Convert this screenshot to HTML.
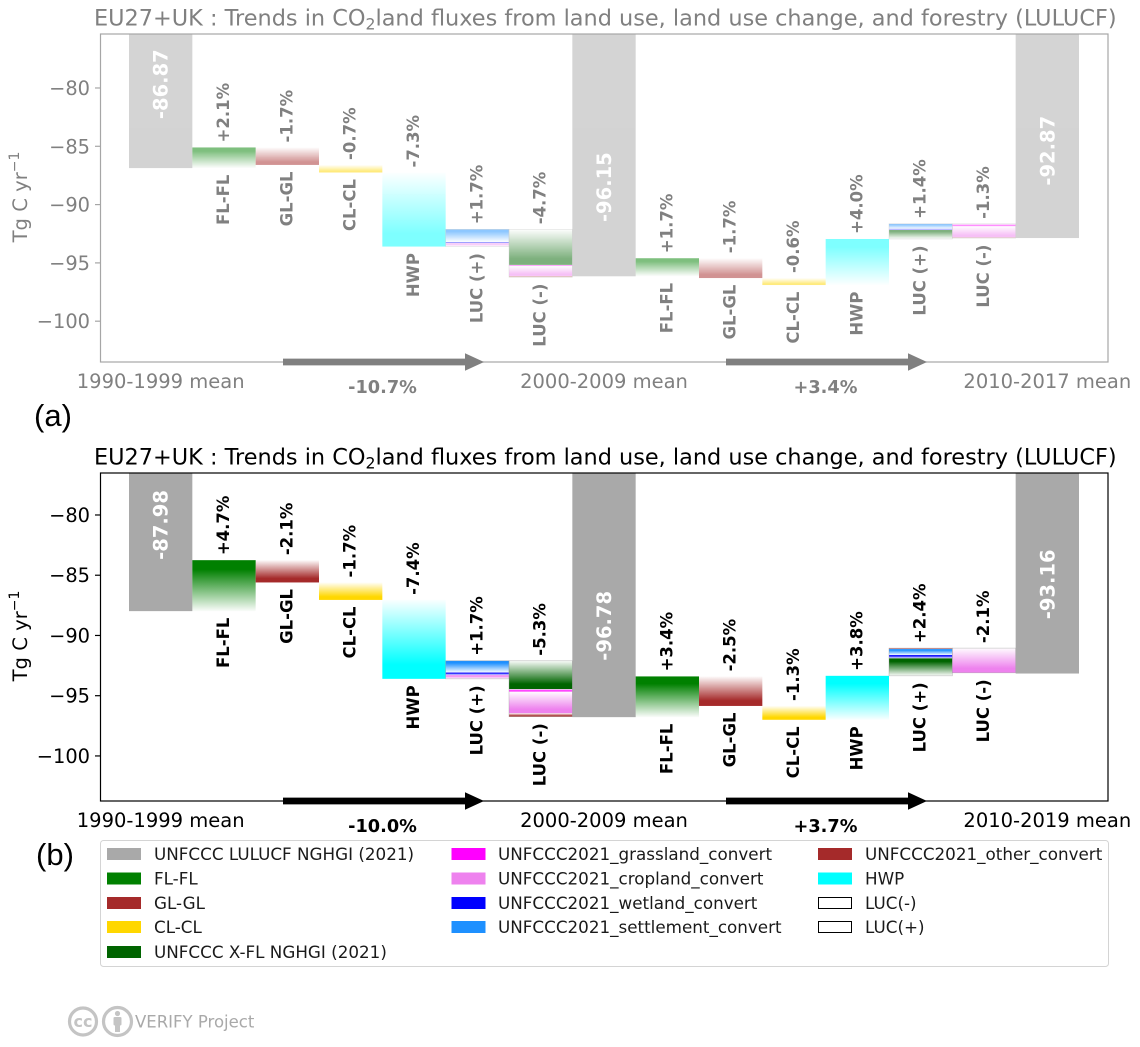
<!DOCTYPE html>
<html lang="en">
<head>
<meta charset="utf-8">
<title>EU27+UK LULUCF CO2 land flux trends</title>
<style>
html,body{margin:0;padding:0;background:#fff;}
svg{display:block;font-family:"DejaVu Sans","Liberation Sans",sans-serif;}
</style>
</head>
<body>
<svg id="chart" xmlns="http://www.w3.org/2000/svg" width="1140" height="1047" viewBox="0 0 1140 1047">
  <defs id="grads"></defs>
  <g id="panel-a"></g>
  <g id="panel-b"></g>

  <text x="34" y="426" font-family="'Liberation Sans',sans-serif" font-size="31" fill="#000">(a)</text>
  <text x="36" y="865" font-family="'Liberation Sans',sans-serif" font-size="31" fill="#000">(b)</text>

  <g font-size="16.75" fill="#1a1a1a">
    <rect x="100.5" y="840.5" width="1008" height="126" rx="3" fill="#fff" stroke="#d4d4d4" stroke-width="1"/>
    <g><rect x="107" y="848" width="34" height="12" fill="#a9a9a9"/><text x="154" y="860">UNFCCC LULUCF NGHGI (2021)</text></g>
    <g><rect x="107" y="872.5" width="34" height="12" fill="#008000"/><text x="154" y="884.5">FL-FL</text></g>
    <g><rect x="107" y="897" width="34" height="12" fill="#a52a2a"/><text x="154" y="909">GL-GL</text></g>
    <g><rect x="107" y="921" width="34" height="12" fill="#ffd700"/><text x="154" y="933">CL-CL</text></g>
    <g><rect x="107" y="946" width="34" height="12" fill="#006400"/><text x="154" y="958">UNFCCC X-FL NGHGI (2021)</text></g>
    <g><rect x="451.5" y="848" width="34" height="12" fill="#ff00ff"/><text x="498" y="860">UNFCCC2021_grassland_convert</text></g>
    <g><rect x="451.5" y="872.5" width="34" height="12" fill="#ee82ee"/><text x="498" y="884.5">UNFCCC2021_cropland_convert</text></g>
    <g><rect x="451.5" y="897" width="34" height="12" fill="#0000ff"/><text x="498" y="909">UNFCCC2021_wetland_convert</text></g>
    <g><rect x="451.5" y="921" width="34" height="12" fill="#1e90ff"/><text x="498" y="933">UNFCCC2021_settlement_convert</text></g>
    <g><rect x="818" y="848" width="34" height="12" fill="#a52a2a"/><text x="865" y="860">UNFCCC2021_other_convert</text></g>
    <g><rect x="818" y="872.5" width="34" height="12" fill="#00ffff"/><text x="865" y="884.5">HWP</text></g>
    <g><rect x="818.5" y="897.5" width="33" height="11" fill="#fff" stroke="#000" stroke-width="1"/><text x="865" y="909">LUC(-)</text></g>
    <g><rect x="818.5" y="921.5" width="33" height="11" fill="#fff" stroke="#000" stroke-width="1"/><text x="865" y="933">LUC(+)</text></g>
  </g>

  <g>
    <g>
      <circle cx="83" cy="1021.5" r="13.5" fill="#fff" stroke="#c4c4c4" stroke-width="3.2"/>
      <text x="83" y="1027" text-anchor="middle" font-size="16" font-weight="bold" fill="#c4c4c4">cc</text>
    </g>
    <g>
      <circle cx="117.5" cy="1021.5" r="14" fill="#fff" stroke="#c4c4c4" stroke-width="3.2"/>
      <circle cx="117.5" cy="1013.5" r="2.6" fill="#c4c4c4"/>
      <rect x="113.5" y="1017" width="8" height="8.5" rx="1.2" fill="#c4c4c4"/>
      <rect x="115" y="1024" width="5" height="8" fill="#c4c4c4"/>
    </g>
    <text x="135" y="1027.5" font-size="16.5" fill="#a9a9a9">VERIFY Project</text>
  </g>
</svg>

<script>
/* ---------- shared chart data ---------- */
const stepNames = ['FL-FL', 'GL-GL', 'CL-CL', 'HWP', 'LUC (+)', 'LUC (-)'];
const yTicks = [-80, -85, -90, -95, -100];

/* ---------- panel (a) data (Tg C / yr) ---------- */
const periodLabelsA = ['1990-1999 mean', '2000-2009 mean', '2010-2017 mean'];
const totalsA = [-86.87, -96.15, -92.87];
const flflA = [1.77, 1.55];
const glglA = [-1.5, -1.7];
const clclA = [-0.65, -0.6];
const hwpA = [-6.35, 3.95];
const plusXflA = [0, 0.77];
const plusCropA = [0.28, 0];
const plusWetlandA = [0.11, 0.1];
const plusSettlementA = [1.09, 0.43];
const plusOtherA = [0, 0];
const minusXflA = [3.05, 0];
const minusGrassA = [0.1, 0.2];
const minusCropA = [0.85, 0.95];
const minusOtherA = [0.1, 0.07];
const percentLabelsA = [
  ['+2.1%', '-1.7%', '-0.7%', '-7.3%', '+1.7%', '-4.7%'],
  ['+1.7%', '-1.7%', '-0.6%', '+4.0%', '+1.4%', '-1.3%']
];
const changeLabelsA = ['-10.7%', '+3.4%'];

/* ---------- panel (b) data (Tg C / yr) ---------- */
const periodLabelsB = ['1990-1999 mean', '2000-2009 mean', '2010-2019 mean'];
const totalsB = [-87.98, -96.78, -93.16];
const flflB = [4.23, 3.38];
const glglB = [-1.85, -2.45];
const clclB = [-1.45, -1.15];
const hwpB = [-6.55, 3.65];
const plusXflB = [0, 1.45];
const plusCropB = [0.3, 0];
const plusWetlandB = [0.22, 0.27];
const plusSettlementB = [0.98, 0.5];
const plusOtherB = [0, 0.08];
const minusXflB = [2.35, 0];
const minusGrassB = [0.2, 0];
const minusCropB = [1.8, 2.05];
const minusOtherB = [0.29, 0];
const percentLabelsB = [
  ['+4.7%', '-2.1%', '-1.7%', '-7.4%', '+1.7%', '-5.3%'],
  ['+3.4%', '-2.5%', '-1.3%', '+3.8%', '+2.4%', '-2.1%']
];
const changeLabelsB = ['-10.0%', '+3.7%'];

const COLORS = {
  total: '#a9a9a9', flfl: '#008000', glgl: '#a52a2a', clcl: '#ffd700', hwp: '#00ffff',
  xfl: '#006400', grass: '#ff00ff', crop: '#ee82ee', wetland: '#0000ff',
  settlement: '#1e90ff', other: '#a52a2a'
};
const SVGNS = 'http://www.w3.org/2000/svg';

function make(tag, attrs, parent) {
  const el = document.createElementNS(SVGNS, tag);
  for (const k in attrs) el.setAttribute(k, attrs[k]);
  parent.appendChild(el);
  return el;
}

/* one gradient per colour and direction: solid at the end the step moved to */
const gradDefs = document.getElementById('grads');
function gradientFor(key, up) {
  const id = 'g-' + key + (up ? '-up' : '-down');
  if (!document.getElementById(id)) {
    const g = make('linearGradient', {id: id, x1: 0, y1: up ? 1 : 0, x2: 0, y2: up ? 0 : 1}, gradDefs);
    make('stop', {offset: 0, 'stop-color': COLORS[key], 'stop-opacity': 0.02}, g);
    make('stop', {offset: 0.82, 'stop-color': COLORS[key], 'stop-opacity': 1}, g);
    make('stop', {offset: 1, 'stop-color': COLORS[key], 'stop-opacity': 1}, g);
  }
  return 'url(#' + id + ')';
}

function drawPanel(o) {
  const root = document.getElementById(o.id);
  const yScale = v => o.top + (o.yMax - v) / (o.yMax - o.yMin) * (o.bottom - o.top);
  const bandW = 950 / 15;
  const xScale = i => 129 + i * bandW;
  const textFill = o.ink;

  /* marks group; panel (a) is drawn at half alpha */
  const bars = make('g', {opacity: o.alpha}, root);
  
  
  const labels = make('g', {}, root);
  
  

  function stepLabels(i, name, pct, hi, lo) {
    const cx = xScale(i) + bandW / 2 - 1;
    const p = make('text', {
      transform: 'translate(' + cx + ',' + (yScale(hi) - 5) + ') rotate(-90)',
      dy: '0.36em', 'font-size': 16.5, 'font-weight': 'bold', fill: textFill
    }, labels);
    p.textContent = pct;
    
    
    const n = make('text', {
      transform: 'translate(' + cx + ',' + (yScale(lo) + 6.5) + ') rotate(-90)',
      dy: '0.36em', 'text-anchor': 'end', 'font-size': 16.5, 'font-weight': 'bold', fill: textFill
    }, labels);
    n.textContent = name;
    
    
  }

  function segment(i, key, from, to) {
    if (from === to) return;
    const r = make('rect', {
      x: xScale(i), width: bandW,
      y: yScale(Math.max(from, to)),
      height: Math.abs(yScale(from) - yScale(to)),
      fill: gradientFor(key, to > from)
    }, bars);
    
    
  }

  /* totals */
  o.totals.forEach((v, k) => {
    const i = k * 7;
    const r = make('rect', {x: xScale(i), width: bandW, y: yScale(o.yMax), height: yScale(v) - yScale(o.yMax), fill: COLORS.total}, bars);
    
    
    const t = make('text', {
      transform: 'translate(' + (xScale(i) + bandW / 2) + ',' + yScale(v * 0.9516) + ') rotate(-90)',
      dy: '0.36em', 'font-size': 19.5, 'font-weight': 'bold', fill: '#fff'
    }, labels);
    t.textContent = v.toFixed(2);
    
    
  });

  /* waterfall steps for each of the two periods */
  for (let k = 0; k < 2; k++) {
    let level = o.totals[k];
    const base = k * 7 + 1;
    const simple = [['flfl', o.flfl[k]], ['glgl', o.glgl[k]], ['clcl', o.clcl[k]], ['hwp', o.hwp[k]]];
    simple.forEach((s, j) => {
      const next = level + s[1];
      segment(base + j, s[0], level, next);
      stepLabels(base + j, stepNames[j], o.percents[k][j], Math.max(level, next), Math.min(level, next));
      level = next;
    });

    /* LUC (+) stack, built upward */
    const plusStart = level;
    [['xfl', o.plusXfl[k]], ['crop', o.plusCrop[k]], ['wetland', o.plusWetland[k]],
     ['settlement', o.plusSettlement[k]], ['other', o.plusOther[k]]].forEach(s => {
      segment(base + 4, s[0], level, level + s[1]);
      level += s[1];
    });
    outline(base + 4, plusStart, level);
    stepLabels(base + 4, stepNames[4], o.percents[k][4], level, plusStart);

    /* LUC (-) stack, built downward */
    const minusStart = level;
    [['xfl', o.minusXfl[k]], ['grass', o.minusGrass[k]], ['crop', o.minusCrop[k]], ['other', o.minusOther[k]]].forEach(s => {
      segment(base + 5, s[0], level, level - s[1]);
      level -= s[1];
    });
    outline(base + 5, minusStart, level);
    stepLabels(base + 5, stepNames[5], o.percents[k][5], minusStart, level);
  }

  function outline(i, a, b) {
    const r = make('rect', {
      x: xScale(i), width: bandW, y: yScale(Math.max(a, b)), height: Math.abs(yScale(a) - yScale(b)),
      fill: 'none', stroke: '#9a9a9a', 'stroke-width': 0.6, 'stroke-opacity': 0.6
    }, bars);
    
    
  }

  /* axes frame */
  const frame = make('rect', {x: 100.5, y: o.top, width: 1007.5, height: o.bottom - o.top, fill: 'none', stroke: o.frameInk, 'stroke-width': 1.2}, root);
  
  

  /* y ticks */
  const yAxis = make('g', {}, root);
  
  
  yTicks.forEach(v => {
    const tick = make('line', {x1: 95, x2: 100.5, y1: yScale(v), y2: yScale(v), stroke: o.frameInk, 'stroke-width': 1.2}, yAxis);
    
    
    const t = make('text', {x: 90, y: yScale(v) + 7, 'text-anchor': 'end', 'font-size': 19.4, fill: textFill}, yAxis);
    t.textContent = '\u2212' + Math.abs(v);
    
    
  });

  /* y axis title */
  const yTitle = make('text', {
    transform: 'translate(27,' + ((o.top + o.bottom) / 2 - 1) + ') rotate(-90)',
    'text-anchor': 'middle', 'font-size': 19.6, fill: textFill
  }, root);
  
  
  yTitle.appendChild(document.createTextNode('Tg C yr'));
  const sup = make('tspan', {dy: -8, 'font-size': 14}, yTitle);
  sup.textContent = '\u22121';

  /* chart title */
  const title = make('text', {x: 94, y: o.top - 8.5, 'font-size': 22.4, fill: textFill}, root);
  
  
  title.appendChild(document.createTextNode('EU27+UK : Trends in CO'));
  const sub = make('tspan', {dy: 4, 'font-size': 15.7}, title);
  sub.textContent = '2';
  const rest = make('tspan', {dy: -4}, title);
  rest.textContent = 'land fluxes from land use, land use change, and forestry (LULUCF)';

  /* period labels */
  o.periods.forEach((s, k) => {
    const t = make('text', {x: xScale(k * 7) + bandW / 2, y: o.bottom + 26, 'text-anchor': 'middle', 'font-size': 19.5, fill: textFill}, root);
    t.textContent = s;
    
    
  });

  /* change arrows */
  o.changes.forEach((s, k) => {
    const x0 = 283 + k * 443;
    const yc = o.bottom;
    const arrow = make('polygon', {
      points: [[x0, yc - 3.4], [x0 + 182, yc - 3.4], [x0 + 182, yc - 8.8], [x0 + 201, yc], [x0 + 182, yc + 8.8], [x0 + 182, yc + 3.4], [x0, yc + 3.4]].join(' '),
      fill: o.arrowInk
    }, root);
    
    
    const t = make('text', {x: x0 + 99.5, y: yc + 31, 'text-anchor': 'middle', 'font-size': 17.7, 'font-weight': 'bold', fill: textFill}, root);
    t.textContent = s;
    
    
  });
}

drawPanel({
  id: 'panel-a', top: 34, bottom: 362, yMax: -75.37, yMin: -103.5, alpha: 0.5,
  ink: '#808080', frameInk: '#a6a6a6', arrowInk: '#808080',
  periods: periodLabelsA, totals: totalsA, flfl: flflA, glgl: glglA, clcl: clclA, hwp: hwpA,
  plusXfl: plusXflA, plusCrop: plusCropA, plusWetland: plusWetlandA, plusSettlement: plusSettlementA, plusOther: plusOtherA,
  minusXfl: minusXflA, minusGrass: minusGrassA, minusCrop: minusCropA, minusOther: minusOtherA,
  percents: percentLabelsA, changes: changeLabelsA
});
drawPanel({
  id: 'panel-b', top: 473, bottom: 801, yMax: -76.515, yMin: -103.74, alpha: 1,
  ink: '#000', frameInk: '#000', arrowInk: '#000',
  periods: periodLabelsB, totals: totalsB, flfl: flflB, glgl: glglB, clcl: clclB, hwp: hwpB,
  plusXfl: plusXflB, plusCrop: plusCropB, plusWetland: plusWetlandB, plusSettlement: plusSettlementB, plusOther: plusOtherB,
  minusXfl: minusXflB, minusGrass: minusGrassB, minusCrop: minusCropB, minusOther: minusOtherB,
  percents: percentLabelsB, changes: changeLabelsB
});
</script>
</body>
</html>
